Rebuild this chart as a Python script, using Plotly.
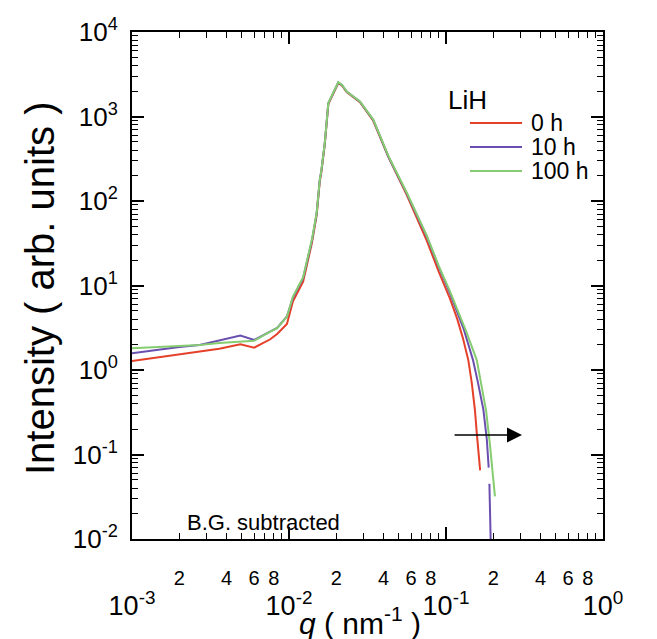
import plotly.graph_objects as go

# ---------------- data ----------------
q_common = [0.001, 0.0015, 0.002, 0.0027, 0.0036, 0.0049, 0.0060, 0.0076, 0.0084, 0.0097,
            0.0106, 0.0123, 0.0140, 0.0150, 0.0157, 0.0161, 0.0169, 0.0178, 0.0192, 0.0206,
            0.0217, 0.0233, 0.0283, 0.0344, 0.043, 0.0562, 0.0754, 0.090, 0.106]

I_0h_main = [1.28, 1.42, 1.55, 1.66, 1.78, 2.01, 1.84, 2.31, 2.67, 3.5,
             6.5, 11.1, 32, 68, 170, 225, 470, 1400, 1850, 2480,
             2330, 1950, 1480, 890, 330, 118, 34, 14.5, 7.0]
I_10h_main = [1.58, 1.75, 1.87, 1.98, 2.25, 2.55, 2.27, 2.84, 3.15, 4.3,
              7.2, 12.2, 34, 71, 177, 233, 482, 1430, 1900, 2520,
              2360, 1970, 1500, 910, 334, 123, 38, 16.5, 8.1]
I_100h_main = [1.81, 1.87, 1.92, 1.98, 2.08, 2.16, 2.22, 2.84, 3.12, 4.27,
               7.4, 12.5, 35, 72, 178, 235, 485, 1440, 1920, 2540,
               2380, 1980, 1510, 920, 340, 126, 39, 17, 8.5]

q_0h_tail = [0.118, 0.128, 0.1387, 0.146, 0.150, 0.153, 0.157, 0.161, 0.163, 0.165]
I_0h_tail = [4.0, 2.4, 1.31, 0.7, 0.45, 0.33, 0.18, 0.11, 0.08, 0.065]

q_10h_tail = [0.120, 0.130, 0.140, 0.1486, 0.160, 0.173, 0.182, 0.187, None, 0.189, 0.191, 0.193]
I_10h_tail = [4.5, 3.0, 1.9, 1.31, 0.7, 0.34, 0.15, 0.07, None, 0.045, 0.02, 0.008]

q_100h_tail = [0.120, 0.135, 0.157, 0.170, 0.180, 0.190, 0.198, 0.205]
I_100h_tail = [4.8, 2.8, 1.31, 0.6, 0.33, 0.137, 0.06, 0.032]

series_names = ["0 h", "10 h", "100 h"]
series_colors = ["#e5412a", "#6a4fb0", "#86cc70"]
legend_title = "LiH"

x_decades = [1e-3, 1e-2, 1e-1, 1e0]
x_decade_text = ["10<sup>-3</sup>", "10<sup>-2</sup>", "10<sup>-1</sup>", "10<sup>0</sup>"]
y_decades = [1e-2, 1e-1, 1e0, 1e1, 1e2, 1e3, 1e4]
y_decade_text = ["10<sup>-2</sup>", "10<sup>-1</sup>", "10<sup>0</sup>", "10<sup>1</sup>",
                 "10<sup>2</sup>", "10<sup>3</sup>", "10<sup>4</sup>"]

# ---------------- figure ----------------
FONT = "Liberation Sans, Arial, sans-serif"
OFF = 8                       # default page (body) margin of the html page
W, H = 657 - OFF, 639 - OFF
L, R, T, B = 132 - OFF, 54, 32 - OFF, 100
PW, PH = W - L - R, H - T - B


def px(xp):
    """window pixel x -> paper fraction"""
    return (xp - OFF - L) / PW


def py(yp):
    """window pixel y -> paper fraction"""
    return (OFF + H - B - yp) / PH


fig = go.Figure()

qs = [q_common + q_0h_tail, q_common + q_10h_tail, q_common + q_100h_tail]
Is = [I_0h_main + I_0h_tail, I_10h_main + I_10h_tail, I_100h_main + I_100h_tail]
xaxes = ["x", "x", "x2"]   # x2 is an identical overlay axis carrying the decade ticks
for name, q, I, c, xa in zip(series_names, qs, Is, series_colors, xaxes):
    fig.add_trace(go.Scatter(x=q, y=I, mode="lines", name=name, xaxis=xa, yaxis="y",
                             line=dict(color=c, width=2), connectgaps=False,
                             showlegend=False))

# tick positions
x_lab_vals, x_lab_text, x_minor_vals = [], [], []
for d in x_decades[:-1]:
    for m in range(2, 10):
        if m in (2, 4, 6, 8):
            x_lab_vals.append(m * d)
            x_lab_text.append(str(m))
        else:
            x_minor_vals.append(m * d)
y_minor_vals = [m * d for d in y_decades[:-1] for m in range(2, 10)]
# a trailing no-break space keeps the y labels a little further from the frame
y_tick_text = [t + "\u00a0" for t in y_decade_text]

fig.update_layout(
    width=W, height=H,
    margin=dict(l=L, r=R, t=T, b=B, autoexpand=False),
    paper_bgcolor="white", plot_bgcolor="white",
    font=dict(family=FONT, color="black"),
    showlegend=False,
    xaxis=dict(type="log", range=[-3, 0], showgrid=False, zeroline=False, automargin=False,
               showline=True, linecolor="black", linewidth=1.5, mirror="ticks",
               tickmode="array", tickvals=x_lab_vals, ticktext=x_lab_text,
               ticks="inside", ticklen=6, tickwidth=1.2, tickcolor="black",
               tickfont=dict(size=20, family=FONT), ticklabelstandoff=20,
               minor=dict(tickmode="array", tickvals=x_minor_vals, ticks="inside",
                          ticklen=6, tickwidth=1.2, tickcolor="black")),
    xaxis2=dict(type="log", range=[-3, 0], overlaying="x", side="bottom", anchor="y",
                showgrid=False, zeroline=False, showline=False, mirror="ticks",
                automargin=False,
                tickmode="array", tickvals=x_decades, ticktext=x_decade_text,
                ticks="inside", ticklen=12, tickwidth=1.5, tickcolor="black",
                tickfont=dict(size=27, family=FONT), ticklabelstandoff=48),
    yaxis=dict(type="log", range=[-2, 4], showgrid=False, zeroline=False, automargin=False,
               showline=True, linecolor="black", linewidth=1.5, mirror="ticks",
               tickmode="array", tickvals=y_decades, ticktext=y_tick_text,
               ticks="inside", ticklen=12, tickwidth=1.5, tickcolor="black",
               tickfont=dict(size=26, family=FONT),
               minor=dict(tickmode="array", tickvals=y_minor_vals, ticks="inside",
                          ticklen=6, tickwidth=1.2, tickcolor="black")),
)

# axis titles
fig.add_annotation(text="Intensity ( arb. units )", xref="paper", yref="paper",
                   x=px(40), y=py(289), xanchor="center", yanchor="middle", textangle=-90,
                   showarrow=False, font=dict(size=40, family=FONT))
fig.add_annotation(text="<i>q</i> ( nm<sup>-1</sup> )", xref="paper", yref="paper",
                   x=px(360), y=py(621), xanchor="center", yanchor="middle",
                   showarrow=False, font=dict(size=30, family=FONT))

# legend (drawn by hand so the line samples match the reference length)
fig.add_annotation(text=legend_title, xref="paper", yref="paper", x=px(446), y=py(100),
                   xanchor="left", yanchor="middle", showarrow=False,
                   font=dict(size=26, family=FONT))
for i, (name, c) in enumerate(zip(series_names, series_colors)):
    yy = py(123 + 24 * i)
    fig.add_shape(type="line", xref="paper", yref="paper", x0=px(470), x1=px(522),
                  y0=yy, y1=yy, line=dict(color=c, width=2))
    fig.add_annotation(text=name, xref="paper", yref="paper", x=px(529), y=yy,
                       xanchor="left", yanchor="middle", showarrow=False,
                       font=dict(size=23, family=FONT))

fig.add_annotation(text="B.G. subtracted", xref="paper", yref="paper", x=px(185), y=py(522),
                   xanchor="left", yanchor="middle", showarrow=False,
                   font=dict(size=22, family=FONT))
fig.add_annotation(text="", xref="x", yref="y", axref="x", ayref="y",
                   x=-0.516, y=-0.77, ax=-0.955, ay=-0.77,
                   showarrow=True, arrowhead=2, arrowsize=2, arrowwidth=1.5,
                   arrowcolor="black")

fig.write_html("out.html")
